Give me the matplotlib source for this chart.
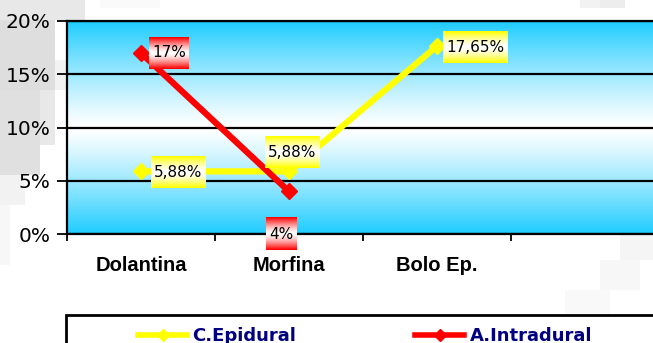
import matplotlib.pyplot as plt
import matplotlib.transforms as mtransforms
from matplotlib.lines import Line2D
from matplotlib.patches import Rectangle
import numpy as np

# data
categories = ["Dolantina", "Morfina", "Bolo Ep."]
n_slots = 4  # the chart leaves one empty category slot on the right
epidural = [5.88, 5.88, 17.65]
intradural = [17.0, 4.0]
epidural_labels = ["5,88%", "5,88%", "17,65%"]
intradural_labels = ["17%", "4%"]
y_ticks = [0, 5, 10, 15, 20]
y_tick_labels = ["0%", "5%", "10%", "15%", "20%"]

W, H = 653, 343
fig = plt.figure(figsize=(W / 100, H / 100), dpi=100)
fig.patch.set_facecolor("white")


def px_rect(x, y_top, w, h, gray):
    # light grey mosaic of the slide background, pixel coords from top-left
    fig.patches.append(Rectangle((x / W, 1 - (y_top + h) / H), w / W, h / H,
                                 transform=fig.transFigure, color=str(gray),
                                 lw=0, zorder=-5))


for blk in [(0, 0, 85, 20, 0.91), (0, 20, 55, 70, 0.87), (0, 90, 40, 85, 0.88),
            (40, 90, 15, 55, 0.91), (55, 60, 12, 30, 0.95), (0, 175, 25, 30, 0.95),
            (0, 205, 10, 60, 0.97), (100, 0, 60, 8, 0.98), (580, 0, 20, 8, 0.95),
            (600, 0, 25, 8, 0.93), (620, 235, 33, 25, 0.96), (600, 260, 40, 30, 0.97),
            (565, 290, 45, 25, 0.975)]:
    px_rect(*blk)

ax = fig.add_axes([67 / W, (H - 234) / H, 592 / W, 213 / H])
ax.set_facecolor("none")

# gradient plot area: cyan -> white -> cyan
cyan = np.array([0.12, 0.80, 1.0])
t = np.linspace(0, 1, 256)[:, None]
w = np.abs(2 * t - 1) ** 1.2
grad = (1 - w)[..., None] * np.ones(3) + w[..., None] * cyan
ax.imshow(grad, extent=[0, n_slots, 0, 20], aspect="auto", origin="lower", zorder=0)

x = np.arange(len(categories)) + 0.5
ax.plot(x[:len(epidural)], epidural, color="#FFFF00", lw=4.5, marker="D", ms=8,
        solid_capstyle="butt", zorder=3, clip_on=False)
ax.plot(x[:len(intradural)], intradural, color="#FF0000", lw=4.5, marker="D", ms=8,
        solid_capstyle="butt", zorder=4, clip_on=False)

ax.set_xlim(0, n_slots)
ax.set_ylim(0, 20)
ax.set_yticks(y_ticks)
ax.set_yticklabels(y_tick_labels)
ax.yaxis.grid(True, color="black", lw=1.6)
ax.set_axisbelow(False)
ax.set_xticks(np.arange(n_slots + 1))
ax.set_xticklabels([])
ax.set_xticks(x, categories, minor=True)
ax.tick_params(axis="y", length=7, width=1.3, pad=5, labelsize=14.5)
ax.tick_params(axis="x", which="major", length=5, width=1.3)
ax.tick_params(axis="x", which="minor", length=0, pad=16, labelsize=14.5)
for lab in ax.get_xticklabels(minor=True):
    lab.set_fontweight("bold")
    lab.set_family("Liberation Sans")
for sp in ["top", "left", "bottom"]:
    ax.spines[sp].set_linewidth(1.6)
ax.spines["right"].set_visible(False)

renderer = fig.canvas.get_renderer()


def add_label(xv, yv, text, color, dx, dy):
    # dx, dy: offset of the box centre from the point, in pixels (dy downwards)
    tr = mtransforms.offset_copy(ax.transData, fig=fig, x=dx, y=-dy, units="dots")
    txt = ax.text(xv, yv, text, transform=tr, ha="center", va="center",
                  fontsize=11, zorder=7, clip_on=False)
    bb = txt.get_window_extent(renderer)
    cx, cy = tr.transform((xv, yv))
    x0, x1 = bb.x0 - 3, bb.x1 + 3
    y0, y1 = cy - 16, cy + 16
    (dx0, dy0), (dx1, dy1) = ax.transData.inverted().transform([(x0, y0), (x1, y1)])
    tt = np.linspace(0, 1, 32)[:, None]
    ww = np.abs(2 * tt - 1) ** 1.4
    c = np.array(color)
    box = (1 - ww)[..., None] * np.ones(3) + ww[..., None] * c
    im = ax.imshow(box, extent=[dx0, dx1, dy0, dy1], aspect="auto", origin="lower", zorder=6)
    im.set_clip_on(False)


yellow = (1.0, 1.0, 0.0)
red = (1.0, 0.0, 0.0)
ep_offsets = [(37, 1), (3, -19), (38, 1)]
in_offsets = [(28, 0), (-8, 43)]
for i, (v, s) in enumerate(zip(epidural, epidural_labels)):
    add_label(x[i], v, s, yellow, *ep_offsets[i])
for i, (v, s) in enumerate(zip(intradural, intradural_labels)):
    add_label(x[i], v, s, red, *in_offsets[i])

ax.set_xlim(0, n_slots)
ax.set_ylim(0, 20)

# legend frame (runs off the bottom/right of the picture)
fig.patches.append(Rectangle((66 / W, -0.2), 2, 0.2 + (H - 315) / H,
                             transform=fig.transFigure, fc="white", ec="black",
                             lw=2, zorder=1))
handles = [Line2D([], [], color="#FFFF00", lw=4, marker="D", ms=6),
           Line2D([], [], color="#FF0000", lw=4, marker="D", ms=6)]
leg = fig.legend(handles, ["C.Epidural", "A.Intradural"], loc="center left",
                 bbox_to_anchor=(122 / W, 1 - 336 / H), ncol=2, frameon=False,
                 handlelength=2.7, handletextpad=0.3, columnspacing=6.6,
                 prop={"weight": "bold", "size": 13})
for txt in leg.get_texts():
    txt.set_color("#000080")
leg.set_zorder(2)

fig.savefig("out.png", dpi=100)
